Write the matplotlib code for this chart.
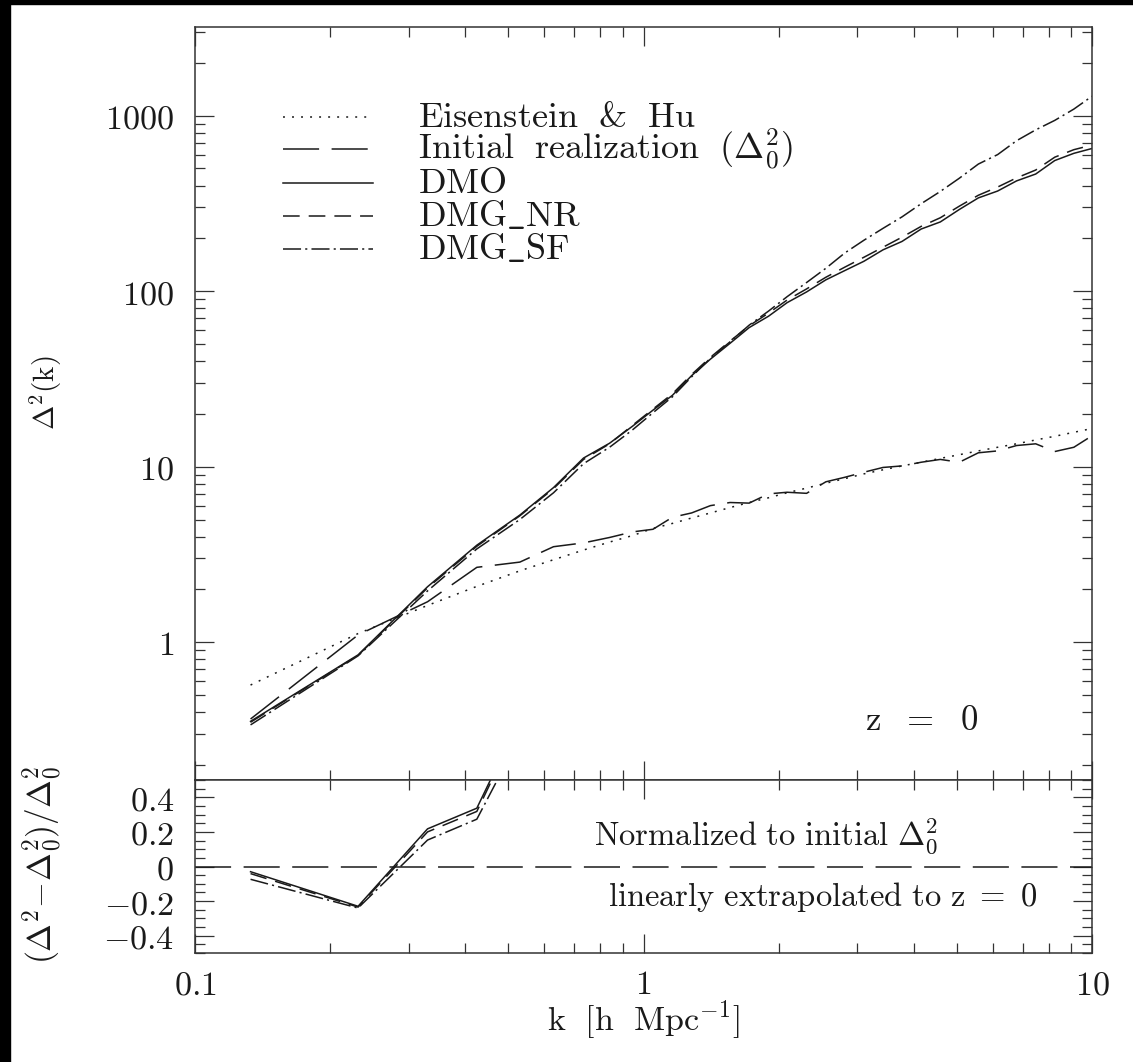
import matplotlib
matplotlib.use("Agg")
import matplotlib.pyplot as plt
import numpy as np
from matplotlib.ticker import FixedLocator, FuncFormatter, LogLocator, MultipleLocator, NullFormatter
from matplotlib.patches import Rectangle
from matplotlib.lines import Line2D

plt.rcParams['mathtext.fontset'] = 'cm'
plt.rcParams['lines.scale_dashes'] = False

# Wavenumber bins [h/Mpc]
k = [0.133, 0.231, 0.330, 0.425, 0.530, 0.630, 0.735, 0.840, 0.945, 1.05,
     1.16, 1.28, 1.41, 1.56, 1.72, 1.90, 2.09, 2.31, 2.55, 2.81,
     3.10, 3.42, 3.77, 4.16, 4.59, 5.06, 5.58, 6.16, 6.79, 7.49,
     8.26, 9.11, 10.0]

# Linear theory (Eisenstein & Hu transfer function)
eisenstein_hu = [0.57, 1.12, 1.62, 2.08, 2.55, 2.95, 3.35, 3.72, 4.05, 4.45,
                 4.75, 5.10, 5.45, 5.85, 6.25, 6.65, 7.10, 7.55, 8.05, 8.55,
                 9.10, 9.60, 10.1, 10.6, 11.15, 11.7, 12.3, 12.9, 13.5, 14.2,
                 14.9, 15.7, 16.5]

# Initial realization, linearly extrapolated to z = 0
initial = [0.365, 1.10, 1.70, 2.67, 2.86, 3.50, 3.68, 3.95, 4.25, 4.40,
           5.15, 5.45, 6.00, 6.25, 6.20, 7.00, 7.15, 7.05, 8.20, 8.70,
           9.30, 9.90, 10.1, 10.6, 11.0, 10.6, 12.0, 12.3, 13.2, 13.5,
           12.2, 12.9, 15.0]

# Simulations at z = 0
dmo = [0.354, 0.847, 2.07, 3.57, 5.30, 7.60, 11.2, 13.6, 17.0, 21.0,
       25.5, 33.0, 41.0, 50.5, 62.0, 72.0, 86.0, 99.0, 116, 131,
       148, 172, 192, 226, 248, 292, 340, 372, 425, 465,
       555, 610, 650]

dmg_nr = [0.350, 0.842, 2.04, 3.52, 5.25, 7.50, 11.0, 13.5, 17.2, 21.3,
          26.0, 33.5, 42.0, 52.0, 63.5, 75.0, 89.0, 103, 120, 137,
          156, 178, 203, 234, 262, 305, 352, 392, 442, 490,
          580, 640, 680]

dmg_sf = [0.338, 0.836, 1.96, 3.40, 5.00, 7.10, 10.4, 12.9, 16.2, 20.3,
          25.0, 32.5, 41.5, 51.5, 64.0, 77.0, 93.0, 112, 135, 165,
          195, 228, 265, 315, 370, 440, 530, 600, 720, 830,
          940, 1090, 1290]

LW = 1.1
INK = '#1a1a1a'
AX = '#333333'
FS_KEY = 26
FS_NOTE = 23.5

styles = {
    'eh':   dict(color=INK, lw=LW, dashes=(1.4, 5.1)),
    'init': dict(color=INK, lw=LW, dashes=(26, 9)),
    'dmo':  dict(color=INK, lw=LW, linestyle='-'),
    'nr':   dict(color=INK, lw=LW, dashes=(12, 6.5)),
    'sf':   dict(color=INK, lw=LW, dashes=(13, 3, 1.5, 3)),
}

W, H = 1133, 1062
fig = plt.figure(figsize=(W / 100, H / 100), dpi=100)
fig.patch.set_facecolor('white')

x0, x1 = 195 / W, 1092 / W
y_top, y_mid, y_bot = 1 - 27 / H, 1 - 780 / H, 1 - 953 / H
ax = fig.add_axes([x0, y_mid, x1 - x0, y_top - y_mid])
ax2 = fig.add_axes([x0, y_bot, x1 - x0, y_mid - y_bot], sharex=ax)

kk = np.array(k)
ax.plot(kk, eisenstein_hu, **styles['eh'])
ax.plot(kk, initial, **styles['init'])
ax.plot(kk, dmo, **styles['dmo'])
ax.plot(kk, dmg_nr, **styles['nr'])
ax.plot(kk, dmg_sf, **styles['sf'])

init_arr = np.array(initial)
ax2.axhline(0.0, **styles['init'])
ax2.plot(kk, (np.array(dmo) - init_arr) / init_arr, **styles['dmo'])
ax2.plot(kk, (np.array(dmg_nr) - init_arr) / init_arr, **styles['nr'])
ax2.plot(kk, (np.array(dmg_sf) - init_arr) / init_arr, **styles['sf'])

ax.set_xscale('log')
ax.set_yscale('log')
ax.set_xlim(0.1, 10)
ax.set_ylim(0.164, 3200)
ax2.set_ylim(-0.5, 0.5)

def num_fmt(v, pos=None):
    if v >= 1:
        s = '%d' % round(v)
    else:
        s = '%g' % v
    return '$' + s + '$'

ax.yaxis.set_major_locator(FixedLocator([1, 10, 100, 1000]))
ax.yaxis.set_minor_locator(LogLocator(base=10, subs=np.arange(2, 10), numticks=20))
ax.yaxis.set_major_formatter(FuncFormatter(num_fmt))
ax.yaxis.set_minor_formatter(NullFormatter())
ax.xaxis.set_major_locator(FixedLocator([0.1, 1, 10]))
ax.xaxis.set_minor_locator(LogLocator(base=10, subs=np.arange(2, 10), numticks=20))
ax.xaxis.set_minor_formatter(NullFormatter())
ax2.xaxis.set_major_formatter(FuncFormatter(num_fmt))
ax2.xaxis.set_minor_formatter(NullFormatter())

ax2.yaxis.set_major_locator(FixedLocator([-0.4, -0.2, 0, 0.2, 0.4]))
ax2.yaxis.set_minor_locator(MultipleLocator(0.05))
ax2.yaxis.set_major_formatter(FuncFormatter(
    lambda v, p: '$0$' if abs(v) < 1e-9 else '$%.1f$' % v))

for a in (ax, ax2):
    a.tick_params(which='both', direction='in', top=True, right=True,
                  colors=AX, labelcolor=INK, labelsize=24.5)
    a.tick_params(which='major', length=14, width=0.9)
    a.tick_params(which='minor', length=7, width=0.9)
    a.tick_params(axis='y', pad=15)
    a.tick_params(axis='x', pad=11)
    for s in a.spines.values():
        s.set_color(AX)
        s.set_linewidth(1.1)
ax.tick_params(labelbottom=False)

ax.set_ylabel(r'$\Delta^2(\mathrm{k})$', fontsize=21, color=INK)
ax.yaxis.set_label_coords(-0.146, 0.515)
ax2.set_ylabel(r'$(\Delta^2\!-\!\Delta^2_0)/\Delta^2_0$', fontsize=24, color=INK)
ax2.yaxis.set_label_coords(-0.145, 0.51)
ax2.set_xlabel(r'$\mathrm{k}\ \ [\mathrm{h}\ \ \mathrm{Mpc}^{-1}]$', fontsize=24.5, color=INK)
ax2.xaxis.set_label_coords(0.5, -0.26)
ax2.xaxis.label.set_va('top')

# Key: line samples and labels
key_labels = [r'$\mathrm{Eisenstein}\ \ &\ \ \mathrm{Hu}$',
              r'$\mathrm{Initial}\ \ \mathrm{realization}\ \ (\Delta^2_0)$',
              r'$\mathrm{DMO}$',
              r'$\mathrm{DMG}\_\mathrm{NR}$',
              r'$\mathrm{DMG}\_\mathrm{SF}$']
key_styles = ['eh', 'init', 'dmo', 'nr', 'sf']
key_rows = [0.8805, 0.838, 0.7928, 0.749, 0.705]
for lab, st, yr in zip(key_labels, key_styles, key_rows):
    ax.add_line(Line2D([0.0981, 0.1984], [yr, yr], transform=ax.transAxes, **styles[st]))
    ax.text(0.2486, yr, lab, transform=ax.transAxes, fontsize=FS_KEY, color=INK,
            ha='left', va='center')

ax.text(0.8105, 0.0797, r'$\mathrm{z}\ \ =\ \ 0$', transform=ax.transAxes,
        fontsize=25, color=INK, ha='center', va='center')
ax2.text(0.637, 0.676, r'$\mathrm{Normalized}\ \mathrm{to}\ \mathrm{initial}\ \Delta^2_0$',
         transform=ax2.transAxes, fontsize=FS_NOTE, color=INK, ha='center', va='center')
ax2.text(0.700, 0.324, r'$\mathrm{linearly}\ \mathrm{extrapolated}\ \mathrm{to}\ \mathrm{z}\ =\ 0$',
         transform=ax2.transAxes, fontsize=FS_NOTE, color=INK, ha='center', va='center')

# Dark frame strips along the left and top edges
fig.patches.append(Rectangle((0, 0), 10 / W, 1, transform=fig.transFigure,
                             color='black', zorder=10))
fig.patches.append(Rectangle((0, 1 - 4 / H), 1, 4 / H, transform=fig.transFigure,
                             color='black', zorder=10))

fig.savefig('out.png', dpi=100, facecolor='white')
